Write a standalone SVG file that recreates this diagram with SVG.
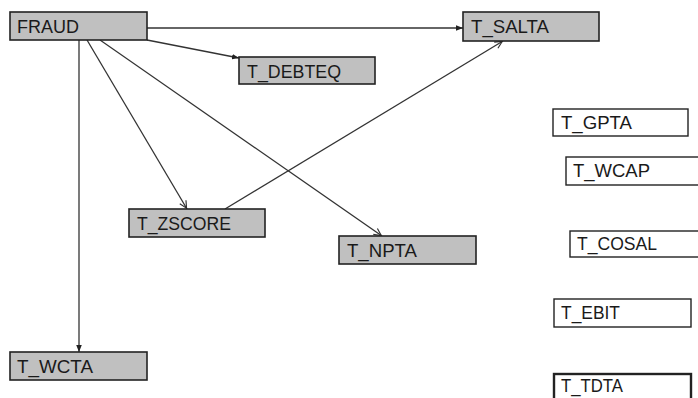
<svg xmlns="http://www.w3.org/2000/svg" width="698" height="398" viewBox="0 0 698 398">
<style>
.g rect{fill:#c0c0c0;stroke:#222;stroke-width:1.6}
.w rect{fill:#fff;stroke:#222;stroke-width:1.4}
text{font-family:"Liberation Sans",Arial,sans-serif;font-size:18.5px;fill:#1a1a1a}
.e line{stroke:#333;stroke-width:1.3;fill:none}
</style>
<defs>
<marker id="fa" viewBox="0 0 10 10" refX="10" refY="5" markerWidth="7" markerHeight="7" markerUnits="userSpaceOnUse" orient="auto"><path d="M0,1 L10,5 L0,9 Z" fill="#222"/></marker>
<marker id="oa" viewBox="0 0 10 10" refX="10" refY="5" markerWidth="9" markerHeight="9" markerUnits="userSpaceOnUse" orient="auto"><path d="M1,1 L9,5 L1,9" fill="none" stroke="#333" stroke-width="1.3"/></marker>
</defs>
<rect width="698" height="398" fill="#fff"/>
<g id="connectors" class="e">
<line x1="147" y1="28" x2="463" y2="28" marker-end="url(#fa)"/>
<line x1="147" y1="40" x2="239" y2="58" marker-end="url(#fa)"/>
<line x1="79" y1="40" x2="79" y2="352" marker-end="url(#fa)"/>
<line x1="87" y1="40" x2="187" y2="209" marker-end="url(#oa)"/>
<line x1="100" y1="40" x2="382" y2="236" marker-end="url(#oa)"/>
<line x1="225" y1="209" x2="503" y2="41" marker-end="url(#oa)"/>
</g>
<g id="FRAUD" class="g"><rect x="10" y="12" width="137" height="28"/><text x="17" y="33" textLength="62" lengthAdjust="spacingAndGlyphs">FRAUD</text></g>
<g id="T_SALTA" class="g"><rect x="463" y="12" width="136" height="29"/><text x="471" y="33" textLength="78" lengthAdjust="spacingAndGlyphs">T_SALTA</text></g>
<g id="T_DEBTEQ" class="g"><rect x="239" y="57" width="136" height="27"/><text x="247" y="78" textLength="94" lengthAdjust="spacingAndGlyphs">T_DEBTEQ</text></g>
<g id="T_ZSCORE" class="g"><rect x="129" y="209" width="136" height="28"/><text x="137" y="230" textLength="94" lengthAdjust="spacingAndGlyphs">T_ZSCORE</text></g>
<g id="T_NPTA" class="g"><rect x="339" y="236" width="137" height="28"/><text x="347" y="257" textLength="70" lengthAdjust="spacingAndGlyphs">T_NPTA</text></g>
<g id="T_WCTA" class="g"><rect x="10" y="352" width="137" height="28"/><text x="17" y="373" textLength="76" lengthAdjust="spacingAndGlyphs">T_WCTA</text></g>
<g id="T_GPTA" class="w"><rect x="553" y="109" width="135" height="27"/><text x="561" y="129" textLength="71" lengthAdjust="spacingAndGlyphs">T_GPTA</text></g>
<g id="T_WCAP" class="w"><rect x="566" y="157" width="140" height="28"/><text x="573" y="177" textLength="77" lengthAdjust="spacingAndGlyphs">T_WCAP</text></g>
<g id="T_COSAL" class="w"><rect x="570" y="231" width="140" height="26"/><text x="577" y="250" textLength="80" lengthAdjust="spacingAndGlyphs">T_COSAL</text></g>
<g id="T_EBIT" class="w"><rect x="554" y="299" width="137" height="28"/><text x="561" y="319" textLength="59" lengthAdjust="spacingAndGlyphs">T_EBIT</text></g>
<g id="T_TDTA" class="w"><rect x="554" y="374" width="137" height="26" style="stroke-width:2.4"/><text x="561" y="392" textLength="62" lengthAdjust="spacingAndGlyphs">T_TDTA</text></g>
</svg>
